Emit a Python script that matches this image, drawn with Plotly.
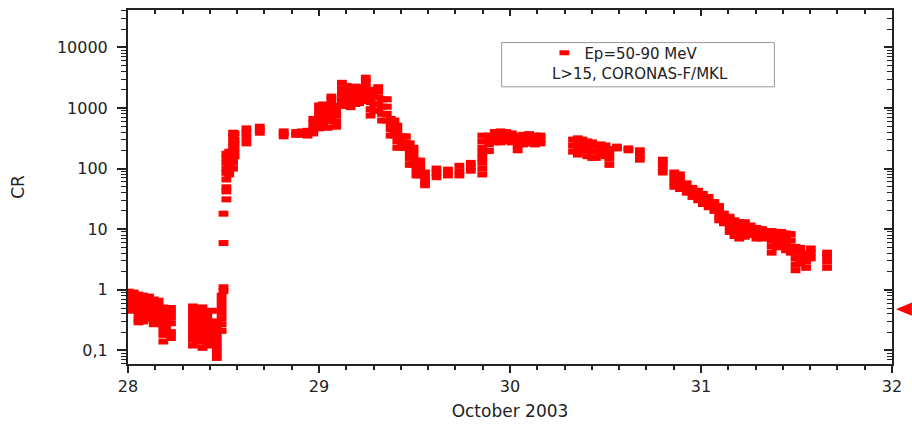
import plotly.graph_objects as go

# Proton count rate, Ep = 50-90 MeV, L>15 (CORONAS-F / MKL), 28-31 October 2003.
# Each entry of sample_day is a sampling time (day of month); the matching
# entry of sample_cr holds the count rates recorded around that time.
sample_day = [
    28.005, 28.030, 28.055, 28.080, 28.110, 28.135, 28.160, 28.185, 28.200, 28.225,
    28.340, 28.365, 28.390, 28.415, 28.440, 28.465, 28.490, 28.500,
    28.515, 28.530, 28.550, 28.558, 28.620, 28.690,
    28.815, 28.880, 28.910, 28.940, 28.970,
    29.000, 29.020, 29.045, 29.065, 29.090, 29.120, 29.145, 29.165, 29.190,
    29.210, 29.230, 29.245, 29.270, 29.290, 29.310, 29.330, 29.355,
    29.375, 29.395, 29.410, 29.435, 29.455, 29.475, 29.495, 29.510, 29.530, 29.555,
    29.615, 29.675, 29.735, 29.795, 29.855, 29.890,
    29.920, 29.950, 29.980, 30.010, 30.040, 30.070, 30.100, 30.130, 30.160,
    30.330, 30.355, 30.380, 30.405, 30.430, 30.450, 30.475, 30.500, 30.520,
    30.560, 30.620, 30.680, 30.800, 30.860,
    30.890, 30.925, 30.955, 30.985, 31.010, 31.040, 31.070, 31.095, 31.120,
    31.150, 31.175, 31.200, 31.230, 31.260, 31.290, 31.320, 31.345,
    31.370, 31.395, 31.420, 31.445, 31.470, 31.495, 31.520, 31.550, 31.575, 31.660,
]
sample_cr = [
    [0.93, 0.83, 0.74, 0.66, 0.58, 0.50, 0.45],
    [0.90, 0.80, 0.70, 0.62, 0.55, 0.48],
    [0.83, 0.72, 0.62, 0.53, 0.45, 0.38, 0.32, 0.29],
    [0.80, 0.68, 0.58, 0.50, 0.42, 0.35, 0.30],
    [0.77, 0.65, 0.55, 0.46, 0.39, 0.33],
    [0.69, 0.58, 0.50, 0.42, 0.35, 0.30, 0.27],
    [0.66, 0.56, 0.47, 0.40, 0.33, 0.28],
    [0.51, 0.44, 0.37, 0.31, 0.26, 0.22, 0.18, 0.14],
    [0.50, 0.42, 0.35, 0.29, 0.24, 0.20],
    [0.50, 0.42, 0.35, 0.28, 0.20, 0.16],
    [0.53, 0.45, 0.38, 0.32, 0.27, 0.22, 0.18, 0.15, 0.12],
    [0.50, 0.42, 0.35, 0.29, 0.24, 0.20, 0.17, 0.14],
    [0.51, 0.43, 0.36, 0.30, 0.25, 0.21, 0.17, 0.14, 0.11],
    [0.42, 0.35, 0.29, 0.24, 0.20, 0.15, 0.12],
    [0.45, 0.30, 0.25, 0.20, 0.17, 0.14],
    [0.29, 0.24, 0.20, 0.16, 0.13, 0.11, 0.09, 0.075],
    [0.80, 0.65, 0.52, 0.42, 0.34, 0.27, 0.21],
    [1.10, 0.95, 5.9, 18.0],
    [31.0, 42.0, 49.0, 66.0, 85.0, 100.0, 125.0, 150.0, 175.0],
    [80.0, 100.0, 120.0, 140.0, 165.0, 190.0],
    [100.0, 125.0, 150.0, 190.0, 230.0, 280.0, 340.0, 390.0],
    [160.0, 200.0, 250.0, 300.0, 380.0],
    [260.0, 320.0, 390.0, 460.0],
    [390.0, 440.0, 490.0],
    [340.0, 380.0, 410.0],
    [360.0, 400.0],
    [360.0, 410.0],
    [350.0, 390.0, 420.0],
    [380.0, 420.0, 460.0, 560.0, 660.0],
    [460.0, 600.0, 750.0, 900.0, 1100.0],
    [500.0, 620.0, 800.0, 1000.0, 1140.0],
    [470.0, 600.0, 760.0, 950.0],
    [700.0, 900.0, 1150.0, 1400.0, 1540.0],
    [490.0, 600.0, 750.0, 900.0, 1080.0],
    [1080.0, 1350.0, 1700.0, 2100.0, 2600.0],
    [1200.0, 1500.0, 1900.0, 2300.0],
    [1030.0, 1300.0, 1600.0, 2000.0],
    [1160.0, 1450.0, 1800.0, 2250.0],
    [1200.0, 1500.0, 1900.0, 2200.0],
    [1300.0, 1600.0, 2000.0],
    [1300.0, 1700.0, 2200.0, 2700.0, 3160.0],
    [750.0, 950.0, 1250.0, 1600.0, 2000.0],
    [900.0, 1150.0, 1500.0, 1900.0],
    [890.0, 1150.0, 1500.0, 1900.0, 2200.0],
    [620.0, 800.0, 1050.0, 1390.0],
    [620.0, 800.0, 1050.0, 1390.0],
    [350.0, 450.0, 560.0, 660.0],
    [350.0, 420.0, 510.0, 620.0],
    [220.0, 280.0, 350.0, 420.0, 510.0],
    [220.0, 270.0, 340.0],
    [220.0, 270.0, 340.0],
    [115.0, 145.0, 180.0, 220.0, 260.0],
    [115.0, 145.0, 180.0, 220.0],
    [77.0, 95.0, 115.0, 135.0],
    [77.0, 95.0, 115.0, 135.0],
    [53.0, 63.0, 75.0, 86.0],
    [72.0, 85.0, 100.0],
    [77.0, 86.0, 96.0],
    [77.0, 90.0, 111.0],
    [92.0, 108.0, 124.0],
    [80.0, 100.0, 125.0, 150.0, 180.0, 220.0, 280.0, 350.0],
    [195.0, 250.0, 300.0, 350.0],
    [270.0, 330.0, 400.0],
    [270.0, 330.0, 410.0],
    [280.0, 340.0, 400.0],
    [270.0, 330.0, 380.0],
    [200.0, 240.0, 290.0, 350.0],
    [250.0, 300.0, 360.0],
    [260.0, 310.0, 370.0],
    [250.0, 300.0, 350.0],
    [260.0, 300.0, 350.0],
    [190.0, 240.0, 300.0],
    [170.0, 210.0, 260.0, 315.0],
    [200.0, 250.0, 300.0],
    [160.0, 200.0, 250.0, 280.0],
    [150.0, 190.0, 240.0, 270.0],
    [150.0, 190.0, 240.0],
    [170.0, 210.0, 250.0],
    [160.0, 200.0, 240.0],
    [115.0, 145.0, 180.0, 210.0],
    [215.0, 230.0],
    [200.0, 215.0],
    [140.0, 170.0, 200.0],
    [86.0, 105.0, 125.0, 140.0],
    [50.0, 60.0, 72.0, 86.0],
    [46.0, 55.0, 66.0, 80.0],
    [40.0, 48.0, 57.0],
    [34.0, 40.0, 48.0],
    [30.0, 36.0, 43.0],
    [26.0, 32.0, 38.0],
    [23.0, 28.0, 34.0],
    [20.0, 24.0, 28.0],
    [14.0, 17.0, 20.0, 24.0],
    [12.5, 15.0, 18.0],
    [9.0, 11.0, 13.0, 16.0],
    [7.7, 9.5, 12.0, 14.0],
    [7.0, 8.5, 10.5, 13.0],
    [7.5, 9.0, 11.0, 13.0],
    [8.0, 9.5, 11.5],
    [7.0, 8.5, 10.5],
    [7.0, 8.5, 10.0],
    [7.2, 8.7],
    [4.1, 5.2, 6.5, 8.0, 9.3],
    [5.0, 6.3, 7.7, 9.0],
    [5.2, 6.5, 8.0, 9.0],
    [4.5, 5.7, 7.0, 8.5],
    [4.1, 5.1, 6.5, 8.3],
    [2.1, 2.6, 3.3, 4.1, 5.1],
    [2.7, 3.3, 4.1, 4.9],
    [2.3, 2.9, 3.6, 3.9],
    [3.3, 4.0, 4.8],
    [2.3, 2.9, 3.5, 4.1],
]

y_tick_values = [0.1, 1, 10, 100, 1000, 10000]
y_tick_labels = ["0,1", "1", "10", "100", "1000", "10000"]
x_tick_values = [28, 29, 30, 31, 32]

# flatten the columns into plain x/y series
days, rates = [], []
for d, col in zip(sample_day, sample_cr):
    for v in col:
        days.append(d)
        rates.append(v)

RED = "#ff0000"
INK = "#222222"
FONT = "DejaVu Sans"

# log minor ticks 2..9 per decade
minor_y = [m * 10.0 ** e for e in range(-2, 5) for m in range(2, 10)]

fig = go.Figure()
fig.add_trace(go.Scatter(
    x=days, y=rates, mode="markers", name="Ep=50-90 MeV",
    marker=dict(symbol="line-ew", size=7, line=dict(color=RED, width=6)),
))
# empty trace that carries the mirrored top/right axes
fig.add_trace(go.Scatter(
    x=[None], y=[None], xaxis="x2", yaxis="y2", mode="markers",
    showlegend=False, hoverinfo="skip",
))

x_common = dict(
    range=[28, 32], tickmode="array", tickvals=x_tick_values,
    showgrid=False, zeroline=False, showline=True, linecolor=INK, linewidth=2,
    tickcolor=INK, tickwidth=1.5,
    minor=dict(tick0=28, dtick=1 / 7, ticklen=4, tickcolor=INK, tickwidth=1.5),
)
y_common = dict(
    type="log", range=[-1.225, 4.616], tickmode="array",
    tickvals=y_tick_values, ticktext=y_tick_labels,
    showgrid=False, zeroline=False, showline=True, linecolor=INK, linewidth=2,
    tickcolor=INK, tickwidth=1.5,
    minor=dict(tickmode="array", tickvals=minor_y, ticklen=5,
               tickcolor=INK, tickwidth=1.2),
)

fig.update_layout(
    width=912, height=428,
    margin=dict(l=128, r=16, t=10, b=56),
    paper_bgcolor="white", plot_bgcolor="white",
    font=dict(family=FONT, size=16, color=INK),
    showlegend=True,
    legend=dict(x=0.545, y=0.925, xanchor="left", yanchor="top",
                bgcolor="rgba(0,0,0,0)", borderwidth=0,
                font=dict(family=FONT, size=15, color=INK)),
    xaxis=dict(**x_common, ticks="outside", ticklen=7,
               minor_ticks="outside",
               title=dict(text="October 2003", font=dict(size=17), standoff=10)),
    yaxis=dict(**y_common, ticks="outside", ticklen=9, minor_ticks="outside",
               ticklabelstandoff=6,
               title=dict(text="CR", font=dict(size=17), standoff=28)),
    xaxis2=dict(**x_common, overlaying="x", side="top", matches="x",
                anchor="y2", ticks="inside", ticklen=6, minor_ticks="inside",
                showticklabels=False),
    yaxis2=dict(**y_common, overlaying="y", side="right", matches="y",
                anchor="x2", ticks="inside", ticklen=8, minor_ticks="inside",
                showticklabels=False),
)

# second line of the legend box and its frame
fig.add_annotation(
    xref="paper", yref="paper", x=0.67, y=0.82, xanchor="center", yanchor="middle",
    text="L>15, CORONAS-F/MKL", showarrow=False,
    font=dict(family=FONT, size=15, color=INK),
)
fig.add_shape(type="rect", xref="paper", yref="paper",
              x0=0.489, x1=0.846, y0=0.783, y1=0.908,
              line=dict(color="#9a9a9a", width=1), fillcolor="rgba(0,0,0,0)")

# red pointer at the right-hand edge
fig.add_shape(type="path", xref="paper", yref="paper",
              path="M 1.0052,0.155 L 1.026,0.174 L 1.026,0.136 Z",
              fillcolor=RED, line=dict(width=0))

fig.write_html("out.html")
